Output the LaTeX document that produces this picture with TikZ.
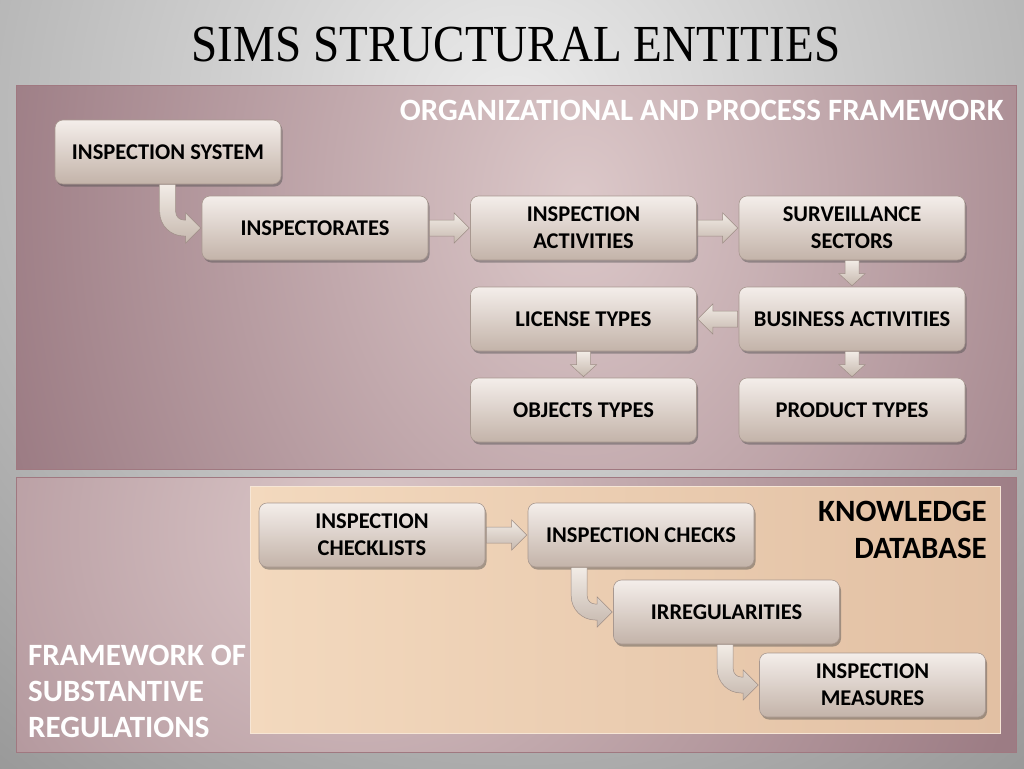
\documentclass[tikz,border=0pt]{standalone}
\usepackage{fontspec}
\setmainfont{Carlito}
\newfontfamily\titlefont{Liberation Serif}
\usetikzlibrary{shadows,calc}
\definecolor{bgin}{HTML}{ECECEC}
\definecolor{bgout}{HTML}{7C7C7C}
\definecolor{panin}{HTML}{DCC8C9}
\definecolor{panout}{HTML}{9C7C84}
\definecolor{panline}{HTML}{A07880}
\definecolor{kbleft}{HTML}{F3D9BE}
\definecolor{kbright}{HTML}{E2C0A3}
\definecolor{kbline}{HTML}{F6E6D6}
\definecolor{boxtop}{HTML}{F4EEEA}
\definecolor{boxbot}{HTML}{C3B3A9}
\definecolor{boxline}{HTML}{A89890}
\definecolor{arrtop}{HTML}{F2ECE6}
\definecolor{arrbot}{HTML}{C6B8AE}
\definecolor{arrline}{HTML}{9E8E86}
\tikzset{
  box/.style={rounded corners=8pt, minimum width=226pt, minimum height=64pt,
    top color=boxtop, bottom color=boxbot, draw=boxline, line width=0.6pt,
    align=center, text=black, inner sep=2pt,
    font=\fontsize{22.5}{27}\selectfont\bfseries,
    drop shadow={shadow xshift=1.5pt, shadow yshift=-2.5pt, opacity=0.45, fill=black!70}},
  barrow/.style={top color=arrtop, bottom color=arrbot, draw=arrline, line width=0.5pt, line join=miter},
  whitelabel/.style={text=white, inner sep=0pt},
}
% right-pointing block arrow from #1.east to #2.west
\newcommand\arrR[2]{\path[barrow] let \p1=(#1.east), \p2=(#2.west) in
  (\x1+1pt,\y2+8pt) -- (\x2-16pt,\y2+8pt) -- (\x2-16pt,\y2+15pt) -- (\x2-1pt,\y2)
  -- (\x2-16pt,\y2-15pt) -- (\x2-16pt,\y2-8pt) -- (\x1+1pt,\y2-8pt) -- cycle;}
% left-pointing block arrow from #1.west to #2.east
\newcommand\arrL[2]{\path[barrow] let \p1=(#1.west), \p2=(#2.east) in
  (\x1-1pt,\y2+8pt) -- (\x2+16pt,\y2+8pt) -- (\x2+16pt,\y2+15pt) -- (\x2+1pt,\y2)
  -- (\x2+16pt,\y2-15pt) -- (\x2+16pt,\y2-8pt) -- (\x1-1pt,\y2-8pt) -- cycle;}
% down-pointing block arrow from #1.south to #2.north
\newcommand\arrD[2]{\path[barrow] let \p1=(#1.south), \p2=(#2.north) in
  (\x1-7pt,\y1) -- (\x1-7pt,\y2+13pt) -- (\x1-13pt,\y2+13pt) -- (\x1,\y2+1pt)
  -- (\x1+13pt,\y2+13pt) -- (\x1+7pt,\y2+13pt) -- (\x1+7pt,\y1) -- cycle;}
% bent block arrow from bottom of #1 into the west side of #2
\newcommand\arrB[2]{\path[barrow] let \p1=(#1.south), \p2=(#2.west) in
  (\x2-42pt,\y1) -- (\x2-42pt,\y2+16pt) arc[start angle=180,end angle=270,radius=24pt]
  -- (\x2-16pt,\y2-8pt) -- (\x2-16pt,\y2-15pt) -- (\x2-1pt,\y2) -- (\x2-16pt,\y2+15pt)
  -- (\x2-16pt,\y2+8pt) -- (\x2-18pt,\y2+8pt) arc[start angle=270,end angle=180,radius=8pt]
  -- (\x2-26pt,\y1) -- cycle;}
\begin{document}
\begin{tikzpicture}[x=1pt,y=-1pt]
\useasboundingbox (0,0) rectangle (1024,768);
% background
\begin{scope}
\clip (0,0) rectangle (1024,768);
\shade[inner color=bgin, outer color=bgout] (-608,-1000) rectangle (1632,1240);
\end{scope}
% title
\node (title) at (516,45) {\titlefont\fontsize{52}{52}\selectfont\scalebox{0.905}[1]{SIMS STRUCTURAL ENTITIES}};
% top panel
\begin{scope}
\clip (16,85) rectangle (1016,469);
\shade[inner color=panin, outer color=panout] (-20,-560) rectangle (1180,960);
\end{scope}
\draw[panline, line width=0.8pt] (16,85) rectangle (1016,469);
% bottom panel
\begin{scope}
\clip (16,477) rectangle (1016,752);
\shade[inner color=panin, outer color=panout] (-320,-100) rectangle (1040,1160);
\end{scope}
\draw[panline, line width=0.8pt] (16,477) rectangle (1016,752);
% knowledge database area
\fill[left color=kbleft, right color=kbright] (250,486) rectangle (1000,733);
\draw[kbline, line width=1pt] (250,486) rectangle (1000,733);
% labels
\node[whitelabel, anchor=base east, font=\fontsize{31}{36}\selectfont\bfseries] (orglab) at (1004,120) {ORGANIZATIONAL AND PROCESS FRAMEWORK};
\node[whitelabel, anchor=base west, align=left, font=\fontsize{31}{36}\selectfont\bfseries] (sublab) at (28,737) {FRAMEWORK OF\\SUBSTANTIVE\\REGULATIONS};
\node[inner sep=0pt, anchor=base east, align=right, text=black, font=\fontsize{31}{37}\selectfont\bfseries] (kblab) at (987,558) {KNOWLEDGE\\DATABASE};
% boxes
\node[box] (sys) at (168,152) {INSPECTION SYSTEM};
\node[box] (insp) at (315,228) {INSPECTORATES};
\node[box] (act) at (583.5,228) {INSPECTION\\ACTIVITIES};
\node[box] (surv) at (852,228) {SURVEILLANCE\\SECTORS};
\node[box] (lic) at (583.5,319) {LICENSE TYPES};
\node[box] (bus) at (852,319) {BUSINESS ACTIVITIES};
\node[box] (obj) at (583.5,410) {OBJECTS TYPES};
\node[box] (prod) at (852,410) {PRODUCT TYPES};
\node[box] (chkl) at (372,535) {INSPECTION\\CHECKLISTS};
\node[box] (chk) at (641,535) {INSPECTION CHECKS};
\node[box] (irr) at (726.5,612) {IRREGULARITIES};
\node[box] (meas) at (872.5,685) {INSPECTION\\MEASURES};
% arrows
\arrB{sys}{insp}
\arrR{insp}{act}
\arrR{act}{surv}
\arrD{surv}{bus}
\arrL{bus}{lic}
\arrD{lic}{obj}
\arrD{bus}{prod}
\arrR{chkl}{chk}
\arrB{chk}{irr}
\arrB{irr}{meas}
\end{tikzpicture}
\end{document}
